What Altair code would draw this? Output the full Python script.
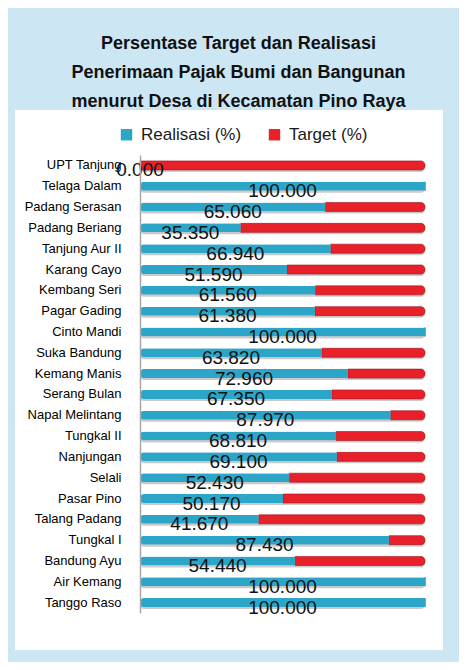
import altair as alt
import pandas as pd

desa = ["UPT Tanjung", "Telaga Dalam", "Padang Serasan", "Padang Beriang", "Tanjung Aur II",
        "Karang Cayo", "Kembang Seri", "Pagar Gading", "Cinto Mandi", "Suka Bandung",
        "Kemang Manis", "Serang Bulan", "Napal Melintang", "Tungkal II", "Nanjungan",
        "Selali", "Pasar Pino", "Talang Padang", "Tungkal I", "Bandung Ayu",
        "Air Kemang", "Tanggo Raso"]
realisasi = [0.0, 100.0, 65.06, 35.35, 66.94, 51.59, 61.56, 61.38, 100.0, 63.82,
             72.96, 67.35, 87.97, 68.81, 69.10, 52.43, 50.17, 41.67, 87.43, 54.44,
             100.0, 100.0]
target = [round(100 - r, 2) for r in realisasi]
series = ["Realisasi (%)", "Target (%)"]
colors = ["#2ba6c9", "#e8202a"]
title_lines = ["Persentase Target dan Realisasi",
               "Penerimaan Pajak Bumi dan Bangunan",
               "menurut Desa di Kecamatan Pino Raya"]

df = pd.DataFrame({"desa": desa, "realisasi": realisasi, "target": target})
df["total"] = df["realisasi"] + df["target"]
df["s_real"] = series[0]
df["s_targ"] = series[1]

W, H = 285, 458
xscale = alt.Scale(domain=[0, 100], nice=False)
cscale = alt.Scale(domain=series, range=colors)

yaxis = alt.Y("desa:N", sort=desa, title=None,
              axis=alt.Axis(labelFont="Liberation Sans", labelFontSize=13, labelColor="#000000",
                            ticks=False, domainColor="#a8a8a8", domainWidth=1.5, labelPadding=19,
                            zindex=1))

bg = alt.Chart(pd.DataFrame({"a": [0]})).mark_rect(fill="white").encode(
    x=alt.value(-125), x2=alt.value(303), y=alt.value(-45), y2=alt.value(495))

base = alt.Chart(df)

shadow = base.mark_bar(size=9, color="#8a8a8a", opacity=0.45, yOffset=2, cornerRadius=4).encode(
    y=yaxis,
    x=alt.X("realisasi:Q", scale=xscale, axis=None),
    x2="total:Q",
).transform_calculate(realisasi="0")

legend = alt.Legend(title=None, orient="none", direction="horizontal",
                    legendX=-22, legendY=-29, symbolType="square",
                    symbolSize=130, symbolStrokeWidth=0,
                    labelFont="Liberation Sans", labelFontSize=17,
                    labelColor="#1a1a1a", labelOffset=6, columnPadding=24)

red = base.mark_bar(size=9, cornerRadiusTopRight=4, cornerRadiusBottomRight=4,
                    stroke="#a3121b", strokeWidth=0.6).encode(
    y=alt.Y("desa:N", sort=desa),
    x=alt.X("realisasi:Q", scale=xscale),
    x2="total:Q",
    color=alt.Color("s_targ:N", scale=cscale, legend=legend),
)

blue = base.mark_bar(size=9, cornerRadiusTopLeft=4, cornerRadiusBottomLeft=4).encode(
    y=alt.Y("desa:N", sort=desa),
    x=alt.X("realisasi:Q", scale=xscale),
    color=alt.Color("s_real:N", scale=cscale, legend=legend),
)

labels = base.transform_calculate(mid="datum.realisasi / 2").mark_text(
    font="Liberation Sans", fontSize=19, color="#111111", baseline="middle", dy=5
).encode(
    y=alt.Y("desa:N", sort=desa),
    x=alt.X("mid:Q", scale=xscale),
    text=alt.Text("realisasi:Q", format=".3f"),
)

chart = alt.layer(bg, shadow, red, blue, labels).resolve_scale(color="shared").properties(
    width=W, height=H,
    title=alt.TitleParams(title_lines, font="Liberation Sans", fontSize=18, fontWeight="bold",
                          color="#111111", anchor="middle", dx=-44, dy=11, lineHeight=29, offset=10),
    background="#cde6f3",
    padding={"left": 132, "top": 147, "right": 34, "bottom": 49},
    autosize=alt.AutoSizeParams(type="none"),
).configure_view(stroke=None)

chart.save("out.html", embed_options={"renderer": "svg", "actions": False})
